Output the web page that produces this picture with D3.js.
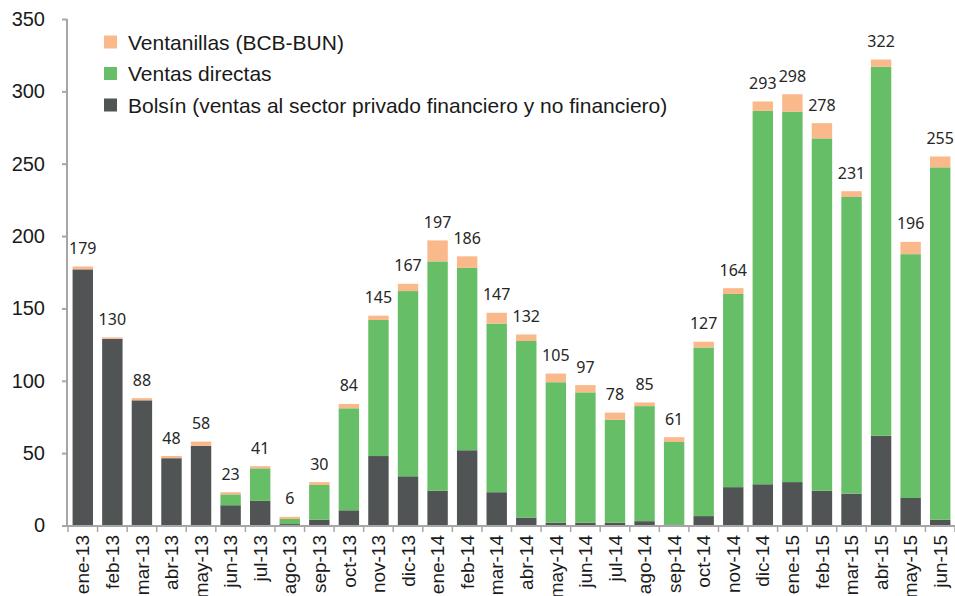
<!DOCTYPE html>
<html>
<head>
<meta charset="utf-8">
<script src="https://cdn.jsdelivr.net/npm/d3@7"></script>
<style>
  body { margin: 0; background: #fff; }
  svg { display: block; }
</style>
</head>
<body>
<svg></svg>
<script>
// months on the category axis
var months = ["ene-13","feb-13","mar-13","abr-13","may-13","jun-13","jul-13","ago-13","sep-13","oct-13",
              "nov-13","dic-13","ene-14","feb-14","mar-14","abr-14","may-14","jun-14","jul-14","ago-14",
              "sep-14","oct-14","nov-14","dic-14","ene-15","feb-15","mar-15","abr-15","may-15","jun-15"];

// Bolsín (ventas al sector privado financiero y no financiero)
var bolsin = [177, 129, 86.5, 46.5, 55, 14, 17, 1, 4, 10.5,
              48, 34, 24, 52, 23, 5.5, 2, 2, 2, 3,
              0.7, 6.5, 26.5, 28.5, 30, 24, 22, 62, 19, 4];

// Ventas directas
var directas = [0, 0, 0, 0, 0, 7.5, 22.5, 3.5, 24, 70.5,
                94, 128, 158.5, 126, 116.5, 122, 97, 90, 71, 79.5,
                57, 116.5, 133.5, 258, 256, 243.5, 205, 255, 168.5, 243.5];

// Ventanillas (BCB-BUN)
var ventanillas = [2, 1, 1.5, 1.5, 3, 1.5, 1.5, 1.5, 2, 3,
                   3, 5, 14.5, 8, 7.5, 4.5, 6, 5, 5, 2.5,
                   3.3, 4, 4, 6.5, 12, 10.5, 4, 5, 8.5, 7.5];

// totals printed above the bars
var totals = [179, 130, 88, 48, 58, 23, 41, 6, 30, 84,
              145, 167, 197, 186, 147, 132, 105, 97, 78, 85,
              61, 127, 164, 293, 298, 278, 231, 322, 196, 255];

var yTicks = [0, 50, 100, 150, 200, 250, 300, 350];

var seriesKeys = ["bolsin", "directas", "ventanillas"];
var seriesColors = { bolsin: "#505454", directas: "#66bf66", ventanillas: "#f9b98a" };
var legendItems = [
  { key: "ventanillas", label: "Ventanillas (BCB-BUN)" },
  { key: "directas", label: "Ventas directas" },
  { key: "bolsin", label: "Bolsín (ventas al sector privado financiero y no financiero)" }
];

var data = months.map(function(m, i) {
  return { month: m, bolsin: bolsin[i], directas: directas[i], ventanillas: ventanillas[i], total: totals[i] };
});

var svgWidth = 955, svgHeight = 596;
var axisColor = "#a6a6a6";

var svg = d3.select("svg")
    .attr("width", svgWidth)
    .attr("height", svgHeight);

// scales
var x = d3.scaleBand()
    .domain(months)
    .range([68, 955])
    .paddingInner(0.31)
    .paddingOuter(0.155);

var y = d3.scaleLinear()
    .domain([0, 350])
    .range([525.5, 19]);

// stacked bars
var stack = d3.stack().keys(seriesKeys);
var layers = stack(data);

svg.append("g").selectAll("g")
    .data(layers)
  .enter().append("g")
    .attr("fill", function(d) { return seriesColors[d.key]; })
  .selectAll("rect")
    .data(function(d) { return d; })
  .enter().append("rect")
    .attr("x", function(d) { return x(d.data.month); })
    .attr("width", x.bandwidth())
    .attr("y", function(d) { return y(d[1]); })
    .attr("height", function(d) { return y(d[0]) - y(d[1]); });

// total labels
svg.append("g").selectAll("text")
    .data(data)
  .enter().append("text")
    .attr("x", function(d) { return x(d.month) + x.bandwidth() / 2; })
    .attr("y", function(d) { return y(d3.sum(seriesKeys, function(k) { return d[k]; })) - 12.5; })
    .attr("text-anchor", "middle")
    .style("font-family", "'Noto Sans', sans-serif")
    .style("font-size", "16px")
    .style("fill", "#262626")
    .text(function(d) { return d.total; });

// y axis
var yAxis = svg.append("g")
    .attr("transform", "translate(67,0)")
    .call(d3.axisLeft(y).tickValues(yTicks).tickSize(5).tickPadding(17));

yAxis.selectAll("path, line")
    .attr("stroke", axisColor)
    .attr("stroke-width", 2);
yAxis.select(".domain").attr("d", "M0," + y(0) + "V" + y(350));
yAxis.selectAll("text")
    .style("font-family", "'Liberation Sans', Arial, sans-serif")
    .style("font-size", "20px")
    .style("fill", "#1a1a1a");

// x axis: line, boundary ticks, rotated labels
var xAxis = svg.append("g");
var half = (x.step() - x.bandwidth()) / 2;
var bounds = months.map(function(m) { return x(m) - half; });
bounds.push(x(months[months.length - 1]) + x.bandwidth() + half);

xAxis.append("line")
    .attr("x1", 66).attr("x2", 955)
    .attr("y1", 526).attr("y2", 526)
    .attr("stroke", axisColor)
    .attr("stroke-width", 2);

xAxis.selectAll(".tick")
    .data(bounds)
  .enter().append("line")
    .attr("class", "tick")
    .attr("x1", function(d) { return d; })
    .attr("x2", function(d) { return d; })
    .attr("y1", 526).attr("y2", 532)
    .attr("stroke", axisColor)
    .attr("stroke-width", 1.5);

xAxis.selectAll("text")
    .data(months)
  .enter().append("text")
    .attr("transform", function(d) {
      return "translate(" + (x(d) + x.bandwidth() / 2) + ",535) rotate(-90)";
    })
    .attr("dy", "0.35em")
    .attr("text-anchor", "end")
    .style("font-family", "'Liberation Sans', Arial, sans-serif")
    .style("font-size", "19px")
    .style("fill", "#1a1a1a")
    .text(function(d) { return d; });

// legend
var legend = svg.append("g").selectAll("g")
    .data(legendItems)
  .enter().append("g")
    .attr("transform", function(d, i) { return "translate(104," + (42 + i * 31.5) + ")"; });

legend.append("rect")
    .attr("x", 0).attr("y", -6.5)
    .attr("width", 13).attr("height", 13)
    .attr("fill", function(d) { return seriesColors[d.key]; });

legend.append("text")
    .attr("x", 24)
    .attr("y", 7.5)
    .style("font-family", "'Liberation Sans', Arial, sans-serif")
    .style("font-size", "21px")
    .style("fill", "#1a1a1a")
    .text(function(d) { return d.label; });
</script>
</body>
</html>
